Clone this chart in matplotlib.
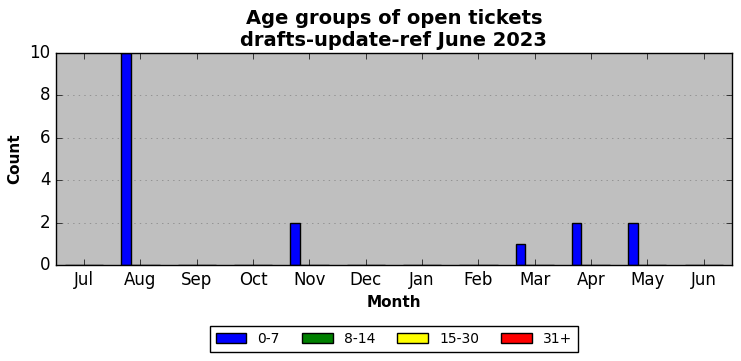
import matplotlib
matplotlib.use('Agg')
import matplotlib.pyplot as plt
import numpy as np

plt.style.use('classic')

months = ['Jul', 'Aug', 'Sep', 'Oct', 'Nov', 'Dec', 'Jan', 'Feb', 'Mar', 'Apr', 'May', 'Jun']
age_0_7 = [0, 10, 0, 0, 2, 0, 0, 0, 1, 2, 2, 0]
age_8_14 = [0, 0, 0, 0, 0, 0, 0, 0, 0, 0, 0, 0]
age_15_30 = [0, 0, 0, 0, 0, 0, 0, 0, 0, 0, 0, 0]
age_31 = [0, 0, 0, 0, 0, 0, 0, 0, 0, 0, 0, 0]

series = [(age_0_7, '0-7', 'blue'), (age_8_14, '8-14', 'green'),
          (age_15_30, '15-30', 'yellow'), (age_31, '31+', 'red')]

fig = plt.figure(figsize=(7.41, 3.61), dpi=100)
fig.patch.set_facecolor('white')
ax = fig.add_axes([0.0756, 0.266, 0.912, 0.588])
ax.set_facecolor('#bfbfbf')

x = np.arange(len(months))
w = 0.17
offsets = [-0.255, -0.085, 0.085, 0.255]
for (vals, lab, col), off in zip(series, offsets):
    ax.bar(x + off, vals, w, color=col, edgecolor='black', label=lab, align='center')

ax.set_xlim(-0.5, 11.5)
ax.set_ylim(0, 10)
ax.set_xticks(x)
ax.set_xticklabels(months)
ax.yaxis.grid(True, linestyle=':', color='gray')
ax.set_axisbelow(True)
ax.set_xlabel('Month', fontweight='bold', fontsize=11)
ax.set_ylabel('Count', fontweight='bold', fontsize=11)
ax.set_title('Age groups of open tickets\ndrafts-update-ref June 2023', fontweight='bold', fontsize=14)
ax.tick_params(labelsize=12)

ax.legend(loc='upper center', bbox_to_anchor=(0.5, -0.27), ncol=4, fontsize=10,
          frameon=True, fancybox=False, columnspacing=1.6, handlelength=2.2,
          borderaxespad=0.3)

fig.savefig('out.png', dpi=100)
